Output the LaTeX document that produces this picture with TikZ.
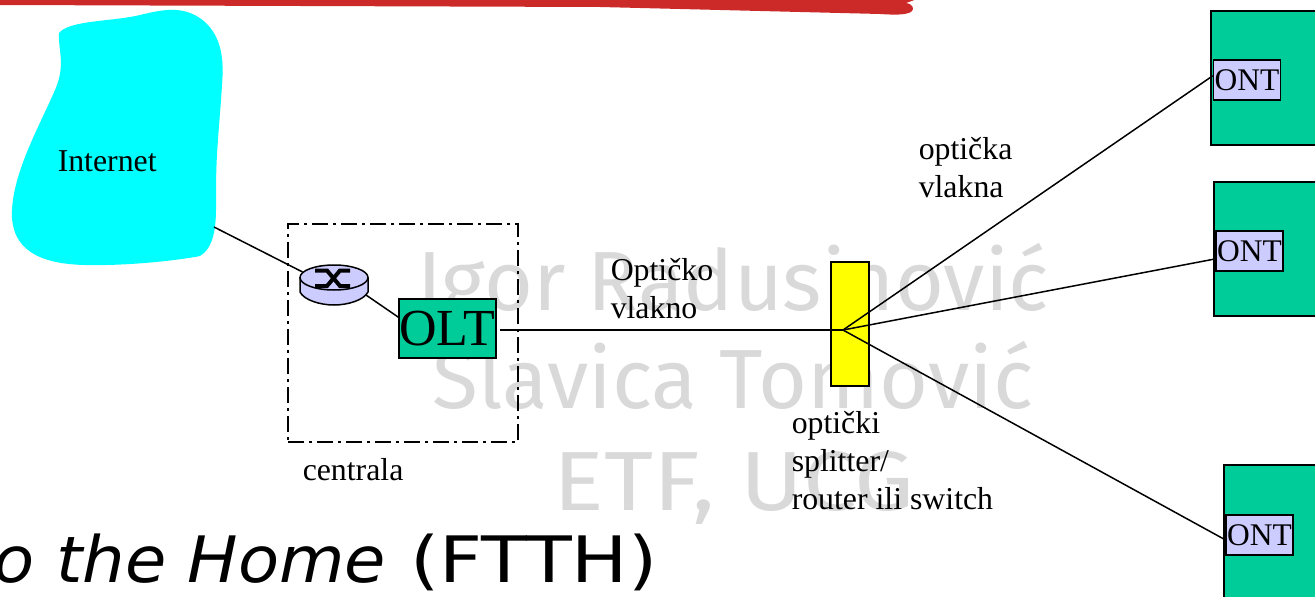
\documentclass[tikz,border=0pt]{standalone}
\usepackage{fontspec}
\usetikzlibrary{shapes.geometric}
\setmainfont{Liberation Serif}
\newfontfamily\markfont{Fira Sans}
\newfontfamily\titlefont{DejaVu Sans}
\definecolor{ftthgreen}{HTML}{00CC99}
\definecolor{ftthblue}{HTML}{CCCCFF}
\definecolor{ftthred}{HTML}{CC2929}
\definecolor{ftthcyan}{HTML}{00FFFF}
\definecolor{ftthyellow}{HTML}{FFFF00}
\definecolor{markgrey}{HTML}{D9D9D9}
\begin{document}
\begin{tikzpicture}[x=1pt,y=-1pt,line width=1.5pt,
    lbl/.style={anchor=base west,inner sep=0pt,align=left,font=\fontsize{31.8}{38}\selectfont},
    wm/.style={anchor=base,inner sep=0pt,text=markgrey,font=\markfont\fontsize{84}{84}\selectfont},
    ttl/.style={anchor=base west,inner sep=0pt,font=\titlefont\fontsize{64}{64}\selectfont},
    home/.style={draw,fill=ftthgreen,minimum width=130pt,minimum height=134pt,inner sep=0pt},
    ont/.style={draw,fill=ftthblue,minimum width=67pt,minimum height=40pt,inner sep=0pt,font=\fontsize{31.5}{38}\selectfont}]
  \useasboundingbox (0,0) rectangle (1315,597);
  % \draw[help lines] (0,0) grid (1315,597);
  \node[wm] (mark1) at (733,310) {Igor Radusinović};
  \node[wm] (mark2) at (733,408) {Slavica Tomović};
  \node[wm] (mark3) at (734,510) {\scalebox{1.13}[1]{ETF, UCG}};
  \fill[ftthred] (0,-2) -- (920,-2) -- (906,3) .. controls (913,4) and (915,9) .. (911,12)
    .. controls (905,15) and (895,15) .. (880,14) -- (600,7) -- (0,5) -- cycle;
  \fill[ftthcyan] (59,33) .. controls (70,20) and (110,22) .. (140,15)
    .. controls (165,9) and (185,5) .. (205,22) .. controls (222,38) and (224,60) .. (222,85)
    .. controls (220,120) and (216,150) .. (216,190) .. controls (216,215) and (218,245) .. (200,256)
    .. controls (180,260) and (130,266) .. (85,265) .. controls (40,264) and (10,250) .. (12,210)
    .. controls (14,170) and (40,125) .. (55,90) .. controls (66,65) and (58,50) .. (59,33) -- cycle;
  \node[lbl] (inet) at (57,171) {Internet};
  \coordinate (inetout) at (214,227);
  \node[draw,dash pattern=on 16pt off 5pt on 3pt off 5pt,minimum width=230pt,minimum height=218pt,inner sep=0pt] (office) at (403,333) {};
  \node[lbl] (officelbl) at (302,480) {centrala};
  % router
  \fill[ftthblue,draw=black] (300,278) -- (300,292) .. controls (304,300) and (320,305) .. (334,305)
    .. controls (348,305) and (364,300) .. (368,292) -- (368,278) -- cycle;
  \node[ellipse,draw,fill=ftthblue,minimum width=68pt,minimum height=25pt,inner sep=0pt] (router) at (334,277.5) {};
  \draw[line width=4pt] (315,270.5) -- (327,270.5) -- (340,286) -- (350,286)
    (350,270.5) -- (340,270.5) -- (327,286) -- (315,286);
  \coordinate (routerout) at (366,295);
  \node[draw,fill=ftthgreen,minimum width=97pt,minimum height=59pt,inner sep=0pt,font=\fontsize{52}{52}\selectfont] (olt) at (447.5,328.5) {\raisebox{-3pt}{OLT}};
  \node[draw,fill=ftthyellow,minimum width=38pt,minimum height=124pt,inner sep=0pt] (splitter) at (850,324) {};
  \coordinate (split) at (843,330);
  \node[home] (home1) at (1276,78) {};
  \node[home] (home2) at (1279,249) {};
  \node[home] (home3) at (1289,532) {};
  \node[ont] (ont1) at (1247,80) {ONT};
  \node[ont] (ont2) at (1249.5,251) {ONT};
  \node[ont] (ont3) at (1259.5,535) {ONT};
  \path (inetout) edge (router.170)
        (routerout) edge (olt.167)
        (olt.east |- split) edge [shorten <=3pt] (split)
        (split) edge (ont1.173)
        (split) edge (ont2.193)
        (split) edge (ont3.188);
  \node[lbl] (fiber) at (610,318) {Optičko\\vlakno};
  \node[lbl] (fibers) at (918,197) {optička\\vlakna};
  \node[lbl] (splitlbl) at (791,509) {optički\\splitter/\\router ili switch};
  \node[ttl] (title) at (-7,582) {\scalebox{1.05}[1]{\textit{o the Home}}};
  \node[ttl] (ftth) at (410,582) {\scalebox{1.17}[1]{(FTTH)}};
\end{tikzpicture}
\end{document}
